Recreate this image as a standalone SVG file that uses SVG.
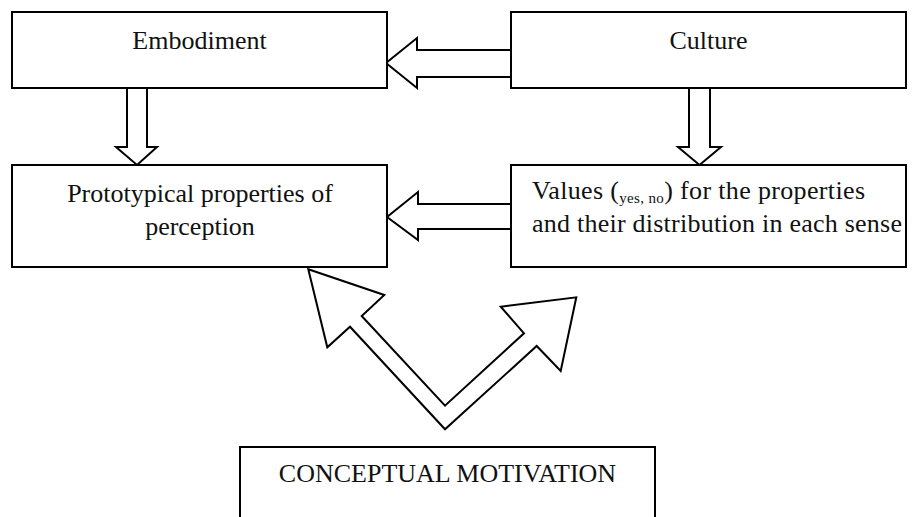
<svg xmlns="http://www.w3.org/2000/svg" width="919" height="517" viewBox="0 0 919 517">
<style>
.box{fill:#fff;stroke:#000;stroke-width:2}
.arr{fill:#fff;stroke:#000;stroke-width:2;stroke-linejoin:miter}
text{font-family:'Liberation Serif','DejaVu Serif',serif;font-size:26px;fill:#111}
.c{text-anchor:middle}
.sub{font-size:15px}
</style>
<rect width="919" height="517" fill="#fff"/>
<g id="connectors">
<polygon class="arr" points="511,50 417,50 417,38 386,63 417,88 417,77 511,77"/>
<polygon class="arr" points="511,204 418,204 418,192 387,217 418,240 418,229 511,229"/>
<polygon class="arr" points="127,88 127,147 116,147 137,165 157,147 147,147 147,88"/>
<polygon class="arr" points="689,88 689,147 678,147 699.5,165 721,147 710,147 710,88"/>
<polygon class="arr" points="308.3,269.3 384.3,295 361.7,316 445,405.7 524,333.3 500.7,306.7 576.3,297.3 560.7,371 536.7,346 445,429.3 350,326.7 327.3,347.3"/>
</g>
<g id="embodiment">
<rect class="box" x="12" y="12" width="375" height="76"/>
<text class="c" x="199.5" y="49" font-family="Liberation Serif, serif">Embodiment</text>
</g>
<g id="culture">
<rect class="box" x="511" y="12" width="395" height="76"/>
<text class="c" x="708.5" y="49" font-family="Liberation Serif, serif">Culture</text>
</g>
<g id="prototypical">
<rect class="box" x="12" y="165" width="375" height="102"/>
<text class="c" x="200" y="202" font-family="Liberation Serif, serif">Prototypical properties of</text>
<text class="c" x="200" y="235" font-family="Liberation Serif, serif">perception</text>
</g>
<g id="values">
<rect class="box" x="511" y="165" width="395" height="102"/>
<text x="532" y="199" textLength="333" lengthAdjust="spacing" font-family="Liberation Serif, serif">Values (<tspan class="sub" dy="4">yes, no</tspan><tspan dy="-4">) for the properties</tspan></text>
<text x="532" y="232" textLength="370" lengthAdjust="spacing" font-family="Liberation Serif, serif">and their distribution in each sense</text>
</g>
<g id="conceptual-motivation">
<rect class="box" x="240" y="447" width="415" height="90"/>
<text class="c" x="447.5" y="482" font-family="Liberation Serif, serif">CONCEPTUAL MOTIVATION</text>
</g>
</svg>
